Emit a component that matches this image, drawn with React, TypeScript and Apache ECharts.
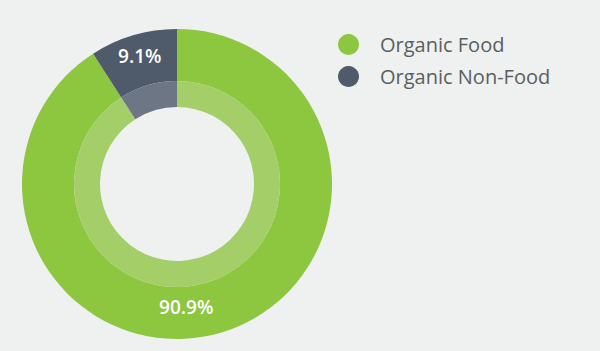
import React, { useEffect, useRef } from "react";
import * as echarts from "echarts";

const categories = ["Organic Food", "Organic Non-Food"];
const values = [90.9, 9.1];
const outerColors = ["#8dc63f", "#4f5b6b"];
const innerColors = ["#a4cf68", "#6c7684"];

export default function App() {
  const ref = useRef<HTMLDivElement>(null);
  useEffect(() => {
    if (!ref.current) return;
    const chart = echarts.init(ref.current, null, { renderer: "svg" });
    const outerData = categories.map((name, i) => ({
      name,
      value: values[i],
      itemStyle: { color: outerColors[i] },
      label: i === 0 ? { offset: [-28, -4] } : { offset: [0, -1] },
    }));
    const innerData = categories.map((name, i) => ({
      name,
      value: values[i],
      itemStyle: { color: innerColors[i] },
    }));
    chart.setOption({
      animation: false,
      backgroundColor: "#eef1f0",
      legend: {
        orient: "vertical",
        left: 333,
        top: 29,
        icon: "circle",
        itemWidth: 21,
        itemHeight: 21,
        itemGap: 11,
        data: categories,
        textStyle: {
          fontFamily: "'Open Sans', Lato, sans-serif",
          fontSize: 20,
          color: "#5a5e62",
          padding: [0, 0, 0, 16],
        },
      },
      series: [
        {
          type: "pie",
          center: [177, 184],
          radius: [103, 155],
          startAngle: 90,
          clockwise: true,
          silent: true,
          data: outerData,
          label: {
            show: true,
            position: "inside",
            formatter: (p: any) => p.value.toFixed(1) + "%",
            color: "#ffffff",
            fontSize: 19,
            fontWeight: 600,
            fontFamily: "'Open Sans', Lato, sans-serif",
          },
          labelLine: { show: false },
        },
        {
          type: "pie",
          center: [177, 184],
          radius: [77, 103],
          startAngle: 90,
          clockwise: true,
          silent: true,
          data: innerData,
          label: { show: false },
          labelLine: { show: false },
        },
      ],
    });
    return () => chart.dispose();
  }, []);
  return (
    <div
      ref={ref}
      style={{ position: "fixed", left: 0, top: 0, width: 600, height: 351 }}
    />
  );
}
